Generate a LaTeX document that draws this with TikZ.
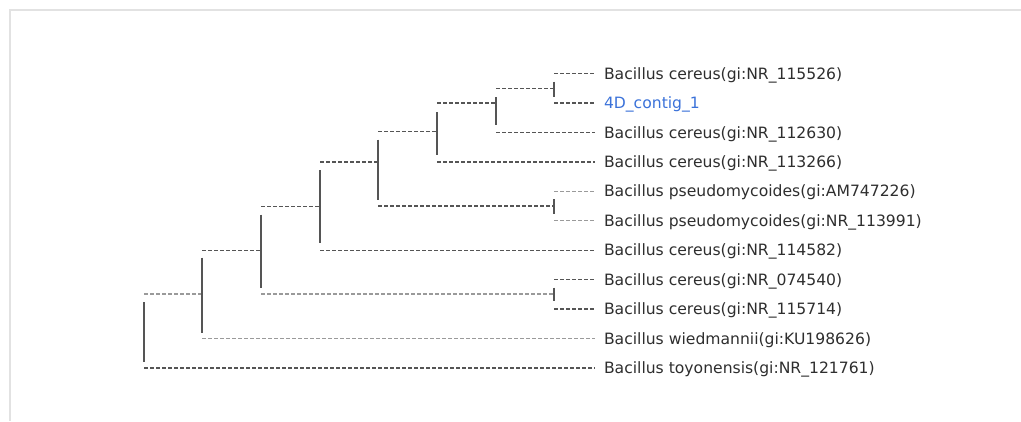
\documentclass[tikz,border=0pt]{standalone}
\usepackage{fontspec}
\setmainfont{DejaVu Sans}
\usetikzlibrary{positioning}
\definecolor{framegray}{HTML}{E2E2E2}
\definecolor{linedark}{HTML}{555555}
\definecolor{linelight}{HTML}{9A9A9A}
\definecolor{leafgray}{HTML}{2E2E2E}
\definecolor{contigblue}{HTML}{3B72D9}

\begin{document}
\begin{tikzpicture}[x=1pt, y=-1pt,
     node distance = 29.45pt,
        leaf/.style = {anchor=west, inner xsep=9pt, inner ysep=0pt, outer sep=0pt,
                       text height=14pt, text depth=2.8pt, text=leafgray,
                       font=\fontsize{15.6}{18}\selectfont},
       hline/.style = {draw=linedark, line width=1.4pt, dash pattern=on 4pt off 2pt},
      hlight/.style = {hline, draw=linelight},
       vline/.style = {draw=linedark, line width=1.5pt}
                    ]
\useasboundingbox (0,0) rectangle (1021,421);
\draw[framegray, line width=1.5pt] (10,421) -- (10,10) -- (1021,10);
\node (l1)  [leaf] at (595,73.5) {Bacillus cereus(gi:NR\_115526)};
\node (l2)  [below=of l1.west, leaf, text=contigblue] {4D\_contig\_1};
\node (l3)  [below=of l2.west, leaf] {Bacillus cereus(gi:NR\_112630)};
\node (l4)  [below=of l3.west, leaf] {Bacillus cereus(gi:NR\_113266)};
\node (l5)  [below=of l4.west, leaf] {Bacillus pseudomycoides(gi:AM747226)};
\node (l6)  [below=of l5.west, leaf] {Bacillus pseudomycoides(gi:NR\_113991)};
\node (l7)  [below=of l6.west, leaf] {Bacillus cereus(gi:NR\_114582)};
\node (l8)  [below=of l7.west, leaf] {Bacillus cereus(gi:NR\_074540)};
\node (l9)  [below=of l8.west, leaf] {Bacillus cereus(gi:NR\_115714)};
\node (l10) [below=of l9.west, leaf] {Bacillus wiedmannii(gi:KU198626)};
\node (l11) [below=of l10.west, leaf] {Bacillus toyonensis(gi:NR\_121761)};
\coordinate (n1) at (554,88.2);
\coordinate (n2) at (496,103);
\coordinate (n3) at (437,131.7);
\coordinate (n4) at (554,206);
\coordinate (n5) at (378,162);
\coordinate (n6) at (320,206.7);
\coordinate (n7) at (554,294);
\coordinate (n8) at (261,250.7);
\coordinate (n9) at (202,294);
\coordinate (root) at (144,331);
\draw[hline] (n1 |- l1) -- (l1);
\draw[hline] (n1 |- l2) -- (l2);
\draw[hline] (n2 |- l3) -- (l3);
\draw[hline] (n3 |- l4) -- (l4);
\draw[hlight] (n4 |- l5) -- (l5);
\draw[hlight] (n4 |- l6) -- (l6);
\draw[hline] (n6 |- l7) -- (l7);
\draw[hline] (n7 |- l8) -- (l8);
\draw[hline] (n7 |- l9) -- (l9);
\draw[hlight] (n9 |- l10) -- (l10);
\draw[hline] (root |- l11) -- (l11);
\draw[hline] (n2 |- n1) -- (n1);
\draw[hline] (n3 |- n2) -- (n2);
\draw[hline] (n5 |- n3) -- (n3);
\draw[hline] (n5 |- n4) -- (n4);
\draw[hline] (n6 |- n5) -- (n5);
\draw[hline] (n8 |- n6) -- (n6);
\draw[hlight] (n8 |- n7) -- (n7);
\draw[hline] (n9 |- n8) -- (n8);
\draw[hlight] (root |- n9) -- (n9);
\draw[vline] ([yshift=-8pt]n1 |- l1) -- ([yshift=6pt]n1 |- l2);
\draw[vline] ([yshift=-9pt]n2 |- n1) -- ([yshift=7pt]n2 |- l3);
\draw[vline] ([yshift=-9pt]n3 |- n2) -- ([yshift=7pt]n3 |- l4);
\draw[vline] ([yshift=-8pt]n4 |- l5) -- ([yshift=7pt]n4 |- l6);
\draw[vline] ([yshift=-8pt]n5 |- n3) -- ([yshift=6pt]n5 |- n4);
\draw[vline] ([yshift=-8pt]n6 |- n5) -- ([yshift=7pt]n6 |- l7);
\draw[vline] ([yshift=-8pt]n7 |- l8) -- ([yshift=8pt]n7 |- l9);
\draw[vline] ([yshift=-8pt]n8 |- n6) -- ([yshift=6pt]n8 |- n7);
\draw[vline] ([yshift=-7pt]n9 |- n8) -- ([yshift=6pt]n9 |- l10);
\draw[vline] ([yshift=-8pt]root |- n9) -- ([yshift=6pt]root |- l11);
\end{tikzpicture}
\end{document}
